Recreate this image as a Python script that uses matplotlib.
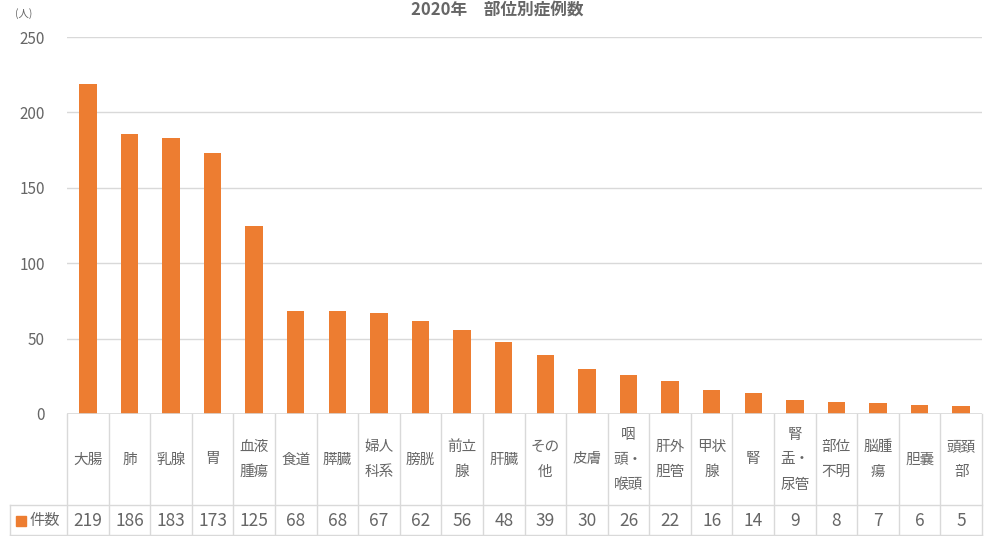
import matplotlib.pyplot as plt
from matplotlib.patches import Rectangle

plt.rcParams['font.family'] = ['Noto Sans CJK JP', 'DejaVu Sans']

# data
sites = ['大腸', '肺', '乳腺', '胃', '血液\n腫瘍', '食道', '膵臓', '婦人\n科系', '膀胱',
         '前立\n腺', '肝臓', 'その\n他', '皮膚', '咽\n頭・\n喉頭', '肝外\n胆管', '甲状\n腺',
         '腎', '腎\n盂・\n尿管', '部位\n不明', '脳腫\n瘍', '胆嚢', '頭頚\n部']
counts = [219, 186, 183, 173, 125, 68, 68, 67, 62, 56, 48, 39, 30, 26, 22, 16, 14, 9, 8, 7, 6, 5]
series_name = '件数'
title = '2020年　部位別症例数'
yticks = [0, 50, 100, 150, 200, 250]

W, H = 994, 536
bar_color = '#ED7D31'
txt = '#666666'
grid = '#d9d9d9'

fig = plt.figure(figsize=(W / 100, H / 100), dpi=100)

# pixel helpers
def fx(px):
    return px / W

def fy(py):
    return 1 - py / H

x0, x1 = 67, 982
y_top, y_zero = 37, 414
ax = fig.add_axes([fx(x0), fy(y_zero), fx(x1) - fx(x0), fy(y_top) - fy(y_zero)])

n = len(counts)
xs = list(range(n))
ax.bar(xs, counts, width=0.42, color=bar_color, zorder=3)
ax.set_xlim(-0.5, n - 0.5)
ax.set_ylim(0, 250)
ax.set_yticks(yticks)
ax.set_yticklabels([str(t) for t in yticks], color=txt, fontsize=11)
ax.tick_params(axis='y', length=0, pad=16)
ax.tick_params(axis='x', length=0, labelbottom=False)
for s in ax.spines.values():
    s.set_visible(False)
ax.set_axisbelow(True)
ax.grid(axis='y', color=grid, linewidth=1)
ax.axhline(0, color=grid, linewidth=1.2, zorder=4)

fig.text(fx(15), fy(14), '(人)', fontsize=7.5, color=txt, ha='left', va='center')
fig.text(0.5, fy(1), title, fontsize=12, color=txt, ha='center', va='top', fontweight='bold')

# data table under the plot
col_w = (x1 - x0) / n
row_split, row_bottom = 505, 535
table_left = 10
for i in range(n + 1):
    xp = x0 + i * col_w
    fig.add_artist(plt.Line2D([fx(xp), fx(xp)], [fy(y_zero), fy(row_bottom)], color=grid, lw=1))
fig.add_artist(plt.Line2D([fx(table_left), fx(table_left)], [fy(row_split), fy(row_bottom)], color=grid, lw=1))
for yp in (row_split, row_bottom):
    fig.add_artist(plt.Line2D([fx(table_left), fx(x1)], [fy(yp), fy(yp)], color=grid, lw=1))

cat_y = (y_zero + row_split) / 2
val_y = (row_split + row_bottom) / 2 + 1
for i, (lab, v) in enumerate(zip(sites, counts)):
    cx = x0 + (i + 0.5) * col_w
    fig.text(fx(cx), fy(cat_y), lab, fontsize=10.5, color=txt, ha='center', va='center',
             linespacing=2.0, multialignment='center')
    fig.text(fx(cx), fy(val_y), str(v), fontsize=12.5, color=txt, ha='center', va='center')

fig.add_artist(Rectangle((fx(16), fy(val_y + 5)), fx(10), fy(0) - fy(10), color=bar_color,
                         transform=fig.transFigure))
fig.text(fx(30), fy(val_y), series_name, fontsize=11, color=txt, ha='left', va='center')

fig.savefig('out.png', dpi=100, facecolor='white')
